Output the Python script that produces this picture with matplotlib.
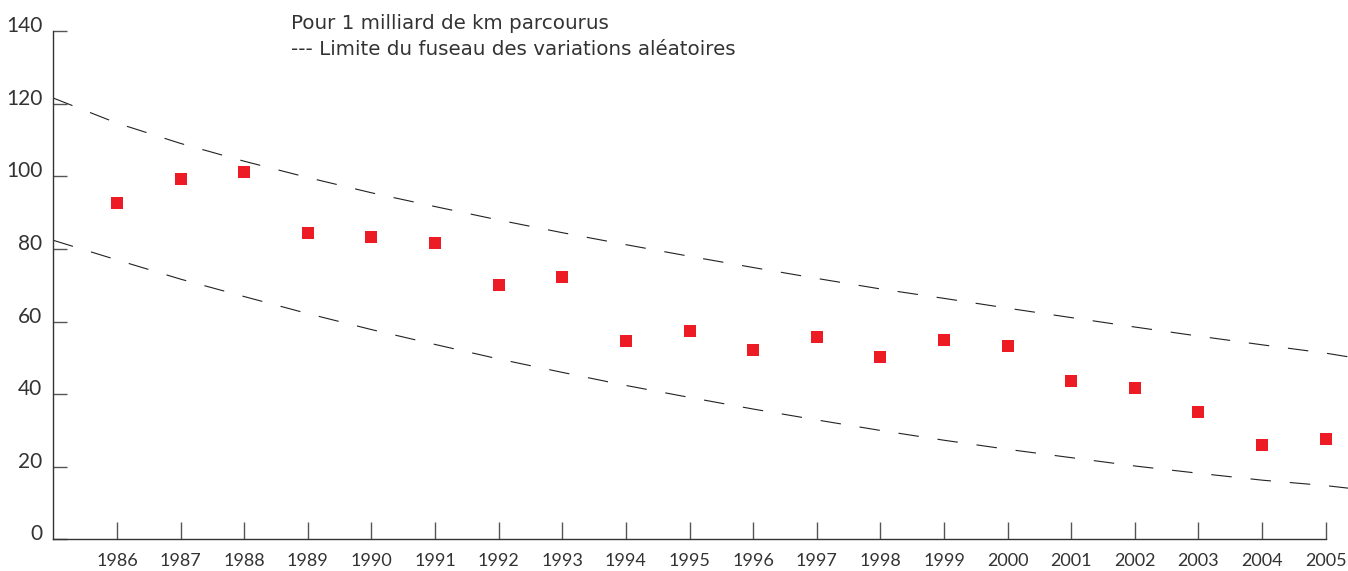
import matplotlib
matplotlib.use('Agg')
import matplotlib.pyplot as plt
import matplotlib.transforms as mtransforms

plt.rcParams['font.family'] = ['Lato', 'DejaVu Sans']

# accident rate per billion km
years = list(range(1986, 2006))
rate = [92.7, 99.3, 101.2, 84.4, 83.3, 81.7, 70.1, 72.3, 54.7, 57.4,
        52.2, 55.8, 50.2, 54.9, 53.3, 43.6, 41.7, 35.1, 26.0, 27.6]

# limits of the random-variation band (dashed lines)
band_x = list(range(1985, 2006)) + [2005.35]
band_upper = [121.6, 114.7, 109.1, 104.2, 99.7, 95.5, 91.7, 88.0, 84.5, 81.2, 78.0,
              74.9, 71.9, 69.0, 66.4, 63.7, 61.1, 58.5, 56.0, 53.6, 51.3, 50.3]
band_lower = [82.4, 77.0, 71.7, 66.9, 62.2, 57.8, 53.7, 49.7, 46.0, 42.4, 39.1,
              35.9, 32.9, 30.0, 27.3, 24.8, 22.5, 20.2, 18.2, 16.3, 14.8, 14.1]

y_ticks = [0, 20, 40, 60, 80, 100, 120, 140]

RED = '#ED1C24'
INK = '#333333'

fig = plt.figure(figsize=(13.48, 5.71), dpi=100)
ax = fig.add_axes([53.3 / 1348, 31.7 / 571, 1 - 53.3 / 1348, 508 / 571])

dash = (0, (18.5, 17))
ax.plot(band_x, band_upper, color='#222222', lw=0.8, linestyle=dash)
ax.plot(band_x, band_lower, color='#222222', lw=0.8, linestyle=dash)
ax.plot(years, rate, linestyle='none', marker='s', ms=9, mew=0, color=RED, zorder=3)

ax.set_xlim(1985, 2005.35)
ax.set_ylim(0, 140)

for side in ['top', 'right']:
    ax.spines[side].set_visible(False)
ax.spines['left'].set_color(INK)
ax.spines['bottom'].set_color(INK)
ax.spines['left'].set_linewidth(1.0)
ax.spines['bottom'].set_linewidth(1.0)
ax.spines['bottom'].set_bounds(1985, 2005)

ax.set_yticks(y_ticks)
ax.set_xticks(years)
ax.set_xticklabels([str(y) for y in years])
ax.tick_params(axis='y', direction='in', length=10, width=1, color='#555555',
               labelsize=15, labelcolor=INK, pad=8)
ax.tick_params(axis='x', direction='in', length=12, width=1, color='#555555',
               labelsize=13, labelcolor=INK, pad=10)

# y labels sit a little above their ticks
shift = mtransforms.ScaledTranslation(0, 7 / 100, fig.dpi_scale_trans)
for lab in ax.get_yticklabels():
    lab.set_transform(lab.get_transform() + shift)

fig.text(291 / 1348, 1 - 29 / 571, 'Pour 1 milliard de km parcourus',
         fontsize=14.3, color=INK, va='baseline', ha='left', family='DejaVu Sans')
fig.text(291 / 1348, 1 - 55 / 571, '--- Limite du fuseau des variations aléatoires',
         fontsize=14.3, color=INK, va='baseline', ha='left', family='DejaVu Sans')

fig.savefig('out.png', dpi=100)
